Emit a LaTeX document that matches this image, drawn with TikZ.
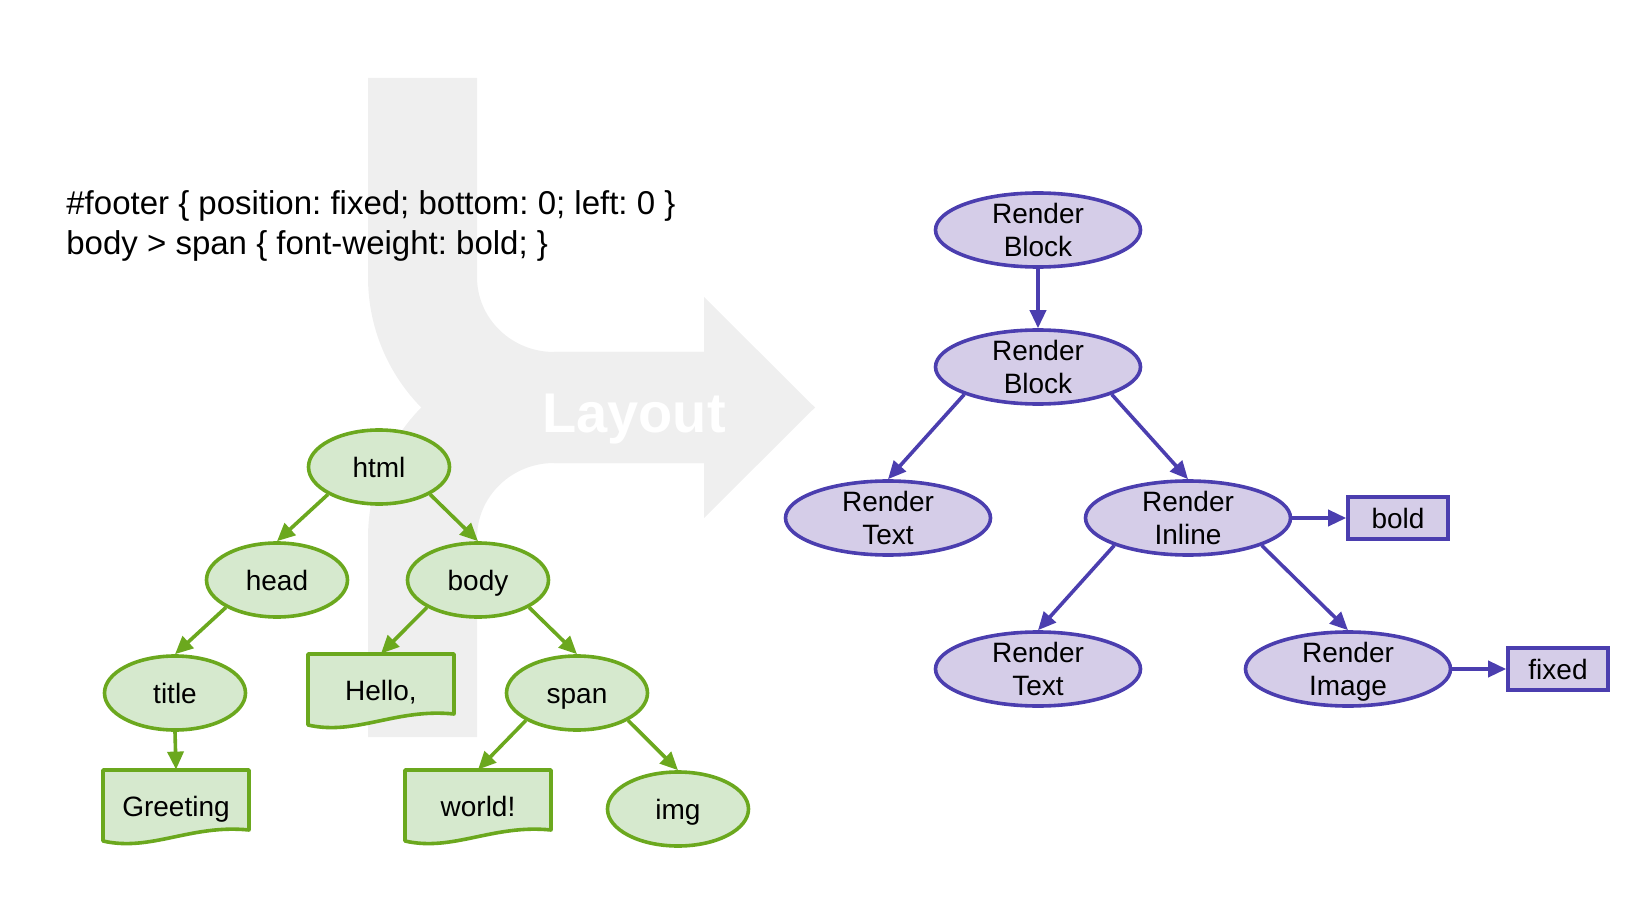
\documentclass[tikz,border=0pt]{standalone}
\usepackage{fontspec}
\setmainfont{Liberation Sans}
\usetikzlibrary{arrows.meta,shapes.geometric}
\definecolor{bggray}{HTML}{EFEFEF}
\definecolor{leafgreen}{HTML}{D6E9CE}
\definecolor{domgreen}{HTML}{6BA81E}
\definecolor{boxpurple}{HTML}{D5CDE8}
\definecolor{renderblue}{HTML}{4B3EAF}

\newcommand{\nodestrut}{\rule[-3pt]{0pt}{16pt}}
\newcommand{\docbox}[4]{% name, x, y, text
  \filldraw[domdoc] (#2-73,#3-36) -- (#2+73,#3-36) -- (#2+73,#3+24)
    .. controls (#2+15,#3+18) and (#2-25,#3+46) .. (#2-73,#3+35) -- cycle;
  \node[domtext] (#1) at (#2,#3) {#4};}

\begin{document}
\frenchspacing
\begin{tikzpicture}[x=0.5pt, y=-0.5pt, >={Triangle[length=9pt,width=8pt]},
    nodefont/.style={font=\fontsize{14}{16.5}\selectfont,
      execute at begin node=\nodestrut, execute at end node=\nodestrut},
    dom/.style={ellipse, draw=domgreen, fill=leafgreen, line width=1.8pt,
      minimum width=70.5pt, minimum height=37pt, inner sep=0pt, nodefont},
    domdoc/.style={draw=domgreen, fill=leafgreen, line width=1.8pt, line join=round},
    domtext/.style={minimum width=73pt, minimum height=36pt, inner sep=0pt, nodefont},
    render/.style={ellipse, draw=renderblue, fill=boxpurple, line width=1.8pt,
      minimum width=102.5pt, minimum height=37pt, inner xsep=0pt, inner ysep=-7pt,
      align=center, font=\fontsize{14}{16.5}\selectfont, text height=29.5pt, text depth=3pt},
    cssbox/.style={rectangle, draw=renderblue, fill=boxpurple, line width=1.8pt,
      minimum width=50pt, minimum height=21pt, inner sep=0pt, nodefont},
    domarrow/.style={->, draw=domgreen, line width=1.8pt},
    renderarrow/.style={->, draw=renderblue, line width=1.8pt}]
    \useasboundingbox (0,0) rectangle (1632,898);

    \fill[bggray] (368,78) -- (477,78) -- (477,277) .. controls (477,319) and (512,352) .. (554,352)
      -- (706,352) -- (706,463) -- (554,463) .. controls (451,463) and (368,380) .. (368,277) -- cycle;
    \fill[bggray] (368,737) -- (477,737) -- (477,538) .. controls (477,496) and (512,463) .. (554,463)
      -- (706,463) -- (706,352) -- (554,352) .. controls (451,352) and (368,435) .. (368,538) -- cycle;
    \fill[bggray] (704,297) -- (815,407.5) -- (704,518) -- cycle;
    \node[font=\fontsize{28}{30}\selectfont\bfseries, text=white, anchor=base] (layout) at (634,432) {Layout};

    \node[anchor=base west, inner sep=0pt, font=\fontsize{16.5}{20}\selectfont] (css1) at (66,215)
      {\#footer \{ position: fixed; bottom: 0; left: 0 \}};
    \node[anchor=base west, inner sep=0pt, font=\fontsize{16.5}{20}\selectfont] (css2) at (66,255)
      {body > span \{ font-weight: bold; \}};

    \node[dom] (html) at (379,467) {html};
    \node[dom] (head) at (277,580) {head};
    \node[dom] (body) at (478,580) {body};
    \node[dom] (title) at (175,693) {title};
    \node[dom] (span) at (577,693) {span};
    \node[dom] (img) at (678,809) {img};
    \docbox{hello}{381}{690}{Hello,}
    \docbox{greeting}{176}{806}{Greeting}
    \docbox{world}{478}{806}{world!}

    \draw[domarrow] (html.south west) -- (head.north);
    \draw[domarrow] (html.south east) -- (body.north);
    \draw[domarrow] (head.south west) -- (title.north);
    \draw[domarrow] (body.south west) -- (hello.north);
    \draw[domarrow] (body.south east) -- (span.north);
    \draw[domarrow] (title.south) -- (greeting.north);
    \draw[domarrow] (span.south west) -- (world.north);
    \draw[domarrow] (span.south east) -- (img.north);

    \node[render] (rb1) at (1038,230) {Render\\Block};
    \node[render] (rb2) at (1038,367) {Render\\Block};
    \node[render] (rt1) at (888,518) {Render\\Text};
    \node[render] (ri) at (1188,518) {Render\\Inline};
    \node[render] (rt2) at (1038,669) {Render\\Text};
    \node[render] (rimg) at (1348,669) {Render\\Image};
    \node[cssbox] (bold) at (1398,518) {bold};
    \node[cssbox] (fixed) at (1558,669) {fixed};

    \draw[renderarrow] (rb1.south) -- (rb2.north);
    \draw[renderarrow] (rb2.south west) -- (rt1.north);
    \draw[renderarrow] (rb2.south east) -- (ri.north);
    \draw[renderarrow] (ri.east) -- (bold.west);
    \draw[renderarrow] (ri.south west) -- (rt2.north);
    \draw[renderarrow] (ri.south east) -- (rimg.north);
    \draw[renderarrow] (rimg.east) -- (fixed.west);
\end{tikzpicture}
\end{document}
